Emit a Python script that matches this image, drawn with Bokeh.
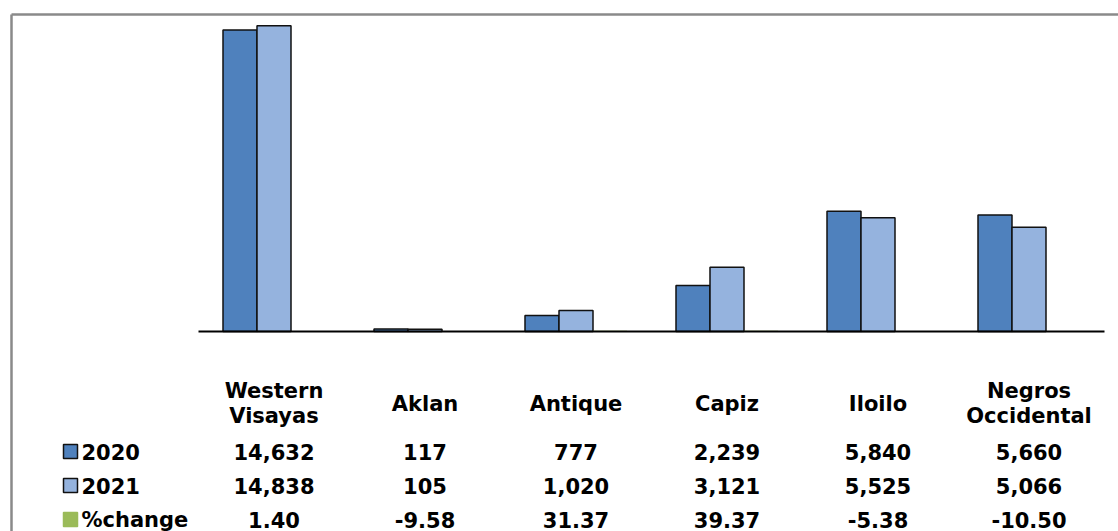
import numpy as np
from bokeh.plotting import figure
from bokeh.models import Range1d, ColumnDataSource
from bokeh.core.properties import value
from bokeh.embed import file_html
from bokeh.resources import INLINE

# ---- data ----
categories = ["Western\nVisayas", "Aklan", "Antique", "Capiz", "Iloilo", "Negros\nOccidental"]
series_names = ["2020", "2021", "%change"]
values_2020 = [14632, 117, 777, 2239, 5840, 5660]
values_2021 = [14838, 105, 1020, 3121, 5525, 5066]
pct_change = [1.40, -9.58, 31.37, 39.37, -5.38, -10.50]

colors = ["#4F81BD", "#95B3DE", "#9BBB59"]
FONT = value("DejaVu Sans")
FSIZE = "21px"

W, H = 1118, 531

# ---- layout helpers (picture pixel -> data units) ----
GROUP_PX = 151.0
X0 = 273.5           # x of first group centre
BASE = 331.0         # y of baseline
YSCALE = 0.0206      # px per unit

def xu(px):
    return (px - X0) / GROUP_PX

def yu(py):
    return (BASE - py) / YSCALE

p = figure(width=W, height=H, output_backend="svg", toolbar_location=None,
           x_range=Range1d(xu(0), xu(W)), y_range=Range1d(yu(H), yu(0)),
           x_axis_location=None, y_axis_location=None, min_border=0)
p.outline_line_color = None
p.grid.visible = False
p.background_fill_color = "white"
p.border_fill_color = "white"

idx = np.arange(len(categories))
bw = 34.0 / GROUP_PX

p.vbar(x=idx - bw, top=values_2020, width=bw, bottom=0,
       fill_color=colors[0], line_color="#111111", line_width=1.5)
p.vbar(x=idx, top=values_2021, width=bw, bottom=0,
       fill_color=colors[1], line_color="#111111", line_width=1.5)
p.vbar(x=idx + bw, top=pct_change, width=bw, bottom=0,
       fill_color=colors[2], line_color=None)

# baseline
p.segment(x0=[-0.5], y0=[0], x1=[len(categories) - 0.5], y1=[0],
          line_color="black", line_width=2)

# chart-area border (top and left)
p.segment(x0=[xu(11), xu(11)], y0=[yu(14), yu(14)], x1=[xu(W), xu(11)], y1=[yu(14), yu(H)],
          line_color="#8A8A8A", line_width=2.5)

# ---- data table ----
cat_src = ColumnDataSource(dict(x=idx, y=[yu(403)] * len(categories), t=categories))
p.text(x="x", y="y", text="t", source=cat_src, text_font=FONT, text_font_style="bold",
       text_font_size=FSIZE, text_align="center", text_baseline="middle",
       text_line_height=1.05, text_color="black")

row_y = [yu(451), yu(485), yu(519)]
rows = [[f"{v:,}" for v in values_2020],
        [f"{v:,}" for v in values_2021],
        [f"{v:.2f}" for v in pct_change]]
for r, txts in enumerate(rows):
    p.text(x=idx, y=[row_y[r]] * len(idx), text=txts, text_font=FONT,
           text_font_style="bold", text_font_size=FSIZE, text_align="center",
           text_baseline="middle", text_color="black")

# legend keys + row labels
p.scatter(x=[xu(70)] * 3, y=row_y, marker="square", size=14,
          fill_color=colors, line_color=["#111111", "#111111", colors[2]], line_width=1.5)
p.text(x=[xu(81)] * 3, y=row_y, text=series_names, text_font=FONT,
       text_font_style="bold", text_font_size=FSIZE, text_align="left",
       text_baseline="middle", text_color="black")

open("out.html", "w").write(file_html(p, INLINE))
